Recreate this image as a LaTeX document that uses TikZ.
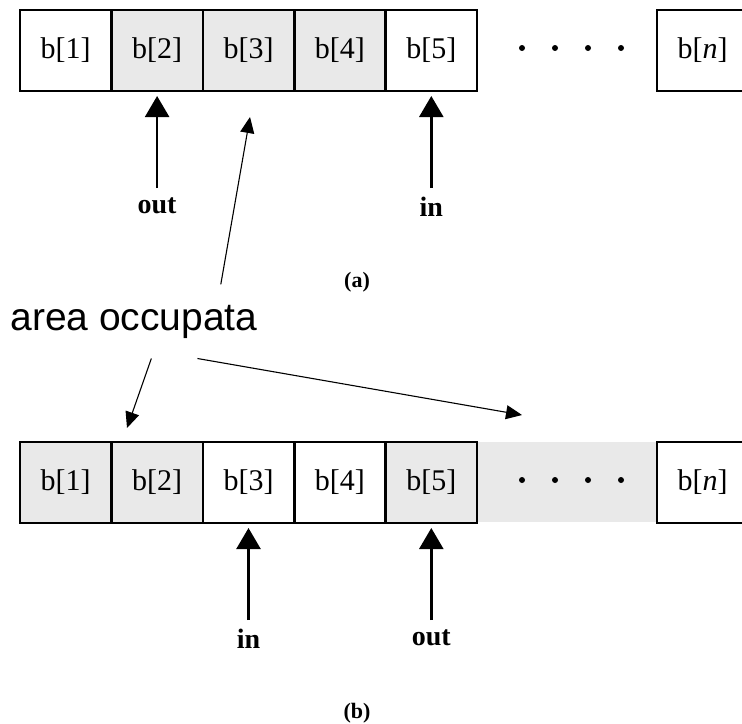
\documentclass[tikz,border=0pt]{standalone}
\usepackage{fontspec}
\setmainfont{Liberation Serif}
\newfontfamily\arialfont{Liberation Sans}
\usetikzlibrary{arrows.meta,calc}
\definecolor{cellgray}{RGB}{233,233,233}
\tikzset{
	cell/.style={draw, line width=1.3pt, outer sep=0pt, inner sep=0pt, minimum width=45.7pt, minimum height=40.5pt, font=\fontsize{15}{18}\selectfont},
	used/.style={cell, fill=cellgray},
	lbl/.style={font=\bfseries\fontsize{14}{16}\selectfont, inner sep=4.5pt, anchor=north},
	captxt/.style={font=\bfseries\fontsize{11}{13}\selectfont, inner sep=0pt},
	bigarrow/.style={line width=1.2pt, -{Triangle[length=10.5pt,width=12pt]}, shorten >=2.5pt},
	thinarrow/.style={line width=0.55pt, -{Triangle[length=8pt,width=7pt]}}
}
\begin{document}
\begin{tikzpicture}[x=0.5pt, y=-0.5pt]
			\useasboundingbox (0,0) rectangle (742,723);

			\node[cell] (a1) at(65.7, 50.5){b[1]};
			\node[used] (a2) at(157.1, 50.5){b[2]};
			\node[used] (a3) at(248.5, 50.5){b[3]};
			\node[used] (a4) at(339.9, 50.5){b[4]};
			\node[cell] (a5) at(431.3, 50.5){b[5]};
				\foreach \x in {522,555,588,621}
					\fill (\x, 48) circle (1.5pt);
			\node[cell] (an) at(702.7, 50.5){b[\textit{n}]};

				\node[lbl] (outA) at(157.1, 188){out};
				\node[lbl] (inA) at(431.3, 188){in};
				\draw[bigarrow] (outA.north) -- (a2.south);
				\draw[bigarrow] (inA.north) -- (a5.south);

			\node[captxt] (capA) at(357, 282){(a)};

			\node[font=\arialfont\fontsize{19.5}{22}\selectfont, inner xsep=0pt, inner ysep=10pt, anchor=base west] (area) at(10, 330){area occupata};
				\coordinate (tipA) at(250, 117);
				\coordinate (tipB) at(127, 428);
				\coordinate (tipC) at(522, 415);
				\draw[thinarrow] ($(area.north west)!.85!(area.north east)$) -- (tipA);
				\draw[thinarrow] ($(area.south west)!.57!(area.south east)$) -- (tipB);
				\draw[thinarrow] ($(area.south west)!.756!(area.south east)$) -- (tipC);

			\fill[cellgray] (477, 442) rectangle (657, 522);
			\node[used] (b1) at(65.7, 482.5){b[1]};
			\node[used] (b2) at(157.1, 482.5){b[2]};
			\node[cell] (b3) at(248.5, 482.5){b[3]};
			\node[cell] (b4) at(339.9, 482.5){b[4]};
			\node[used] (b5) at(431.3, 482.5){b[5]};
				\foreach \x in {522,555,588,621}
					\fill (\x, 480) circle (1.5pt);
			\node[cell] (bn) at(702.7, 482.5){b[\textit{n}]};

				\node[lbl] (inB) at(248.5, 620){in};
				\node[lbl] (outB) at(431.3, 620){out};
				\draw[bigarrow] (inB.north) -- (b3.south);
				\draw[bigarrow] (outB.north) -- (b5.south);

			\node[captxt] (capB) at(357, 713){(b)};
\end{tikzpicture}
\end{document}
